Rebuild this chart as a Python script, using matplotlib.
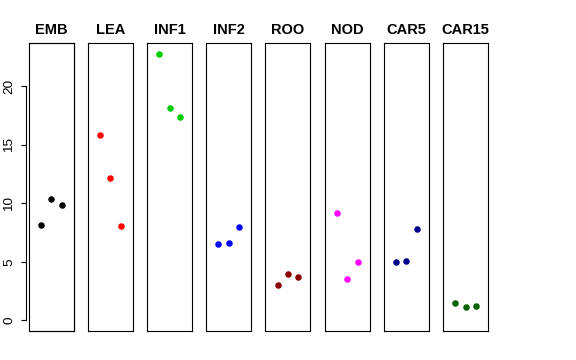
import matplotlib
matplotlib.use('Agg')
import matplotlib.pyplot as plt
from matplotlib.patches import Rectangle
import numpy as np

plt.rcParams['font.family'] = ['Liberation Sans', 'DejaVu Sans']

# data
samples = ['EMB', 'LEA', 'INF1', 'INF2', 'ROO', 'NOD', 'CAR5', 'CAR15']
colors = ['black', '#FF0000', '#00CD00', '#0000FF', '#8B0000', '#FF00FF', '#00008B', '#006400']
reps = [1, 2, 3]
values = {
    'EMB': [8.15, 10.37, 9.83],
    'LEA': [15.81, 12.19, 8.03],
    'INF1': [22.76, 18.12, 17.38],
    'INF2': [6.52, 6.64, 8.00],
    'ROO': [3.05, 3.96, 3.73],
    'NOD': [9.20, 3.53, 5.01],
    'CAR5': [4.99, 5.10, 7.81],
    'CAR15': [1.48, 1.11, 1.20],
}
yticks = [0, 5, 10, 15, 20]

ymax = max(max(v) for v in values.values())
pad = 0.04 * ymax

fig = plt.figure(figsize=(5.76, 3.6), dpi=100)
left, right, bottom, top = 28.7 / 576, 488 / 576, 1 - 331 / 360, 1 - 43.3 / 360
n = len(samples)
w = 45 / 576
step = (right - left - w) / (n - 1)

for i, (s, c) in enumerate(zip(samples, colors)):
    ax = fig.add_axes([left + i * step, bottom, w, top - bottom])
    ax.scatter(reps, values[s], s=22, color=c, zorder=3, linewidths=0)
    ax.set_xlim(-0.16, 4.16)
    ax.set_ylim(-pad, ymax + pad)
    ax.set_xticks([])
    ax.set_title(s, fontsize=10.5, fontweight='bold', pad=7)
    for sp in ax.spines.values():
        sp.set_linewidth(0.8)
        sp.set_color('black')
    if i == 0:
        # R-style axis: offset line spanning first to last tick, box drawn separately
        ax.add_patch(Rectangle((0, 0), 1, 1, transform=ax.transAxes, fill=False,
                               lw=0.8, ec='black', clip_on=False, zorder=4))
        ax.spines['left'].set_position(('outward', 2.2))
        ax.spines['left'].set_bounds(yticks[0], yticks[-1])
        ax.set_yticks(yticks)
        ax.set_yticklabels([str(t) for t in yticks], rotation=90, va='center', fontsize=9.7)
        ax.tick_params(axis='y', length=3.8, width=0.8, pad=3.5)
    else:
        ax.set_yticks([])

plt.savefig('out.png', dpi=100)
